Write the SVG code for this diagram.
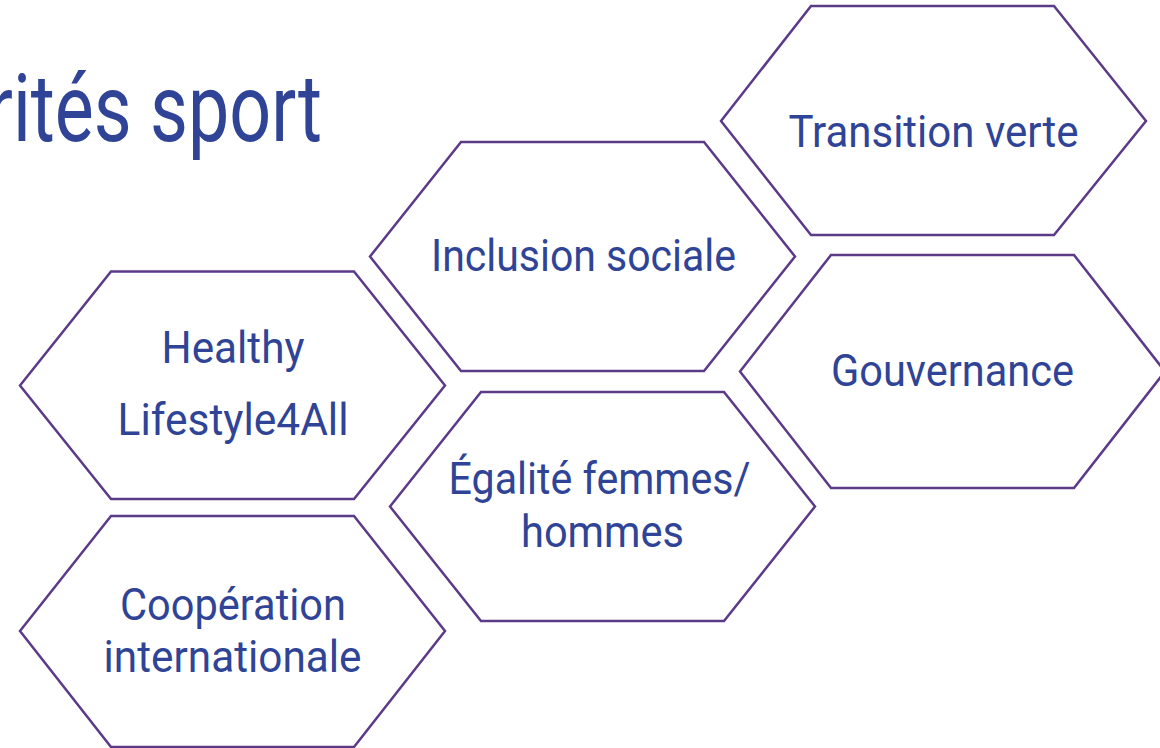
<svg xmlns="http://www.w3.org/2000/svg" width="1160" height="748" viewBox="0 0 1160 748">
<style>
.hex{fill:#ffffff;stroke:#5b3a87;stroke-width:2.5;stroke-linejoin:miter}
.lbl{font-family:Roboto,"Noto Sans","Liberation Sans",sans-serif;font-size:45px;fill:#2f4496;text-anchor:middle}
.title{font-family:Roboto,"Noto Sans","Liberation Sans",sans-serif;font-size:95px;fill:#2f4496}
</style>
<rect width="1160" height="748" fill="#ffffff"/>
<text class="title" x="-12" y="141" textLength="334" lengthAdjust="spacingAndGlyphs">rités sport</text>
<g id="connectors"></g>
<g id="transition-verte">
<polygon class="hex" points="721,121 811,6 1054,6 1146,121 1054,235 811,235"/>
<text class="lbl" x="933.5" y="147" textLength="290" lengthAdjust="spacingAndGlyphs">Transition verte</text>
</g>
<g id="inclusion-sociale">
<polygon class="hex" points="370,256.5 461,142 704,142 795,256.5 704,371 461,371"/>
<text class="lbl" x="583.5" y="271" textLength="305" lengthAdjust="spacingAndGlyphs">Inclusion sociale</text>
</g>
<g id="healthy-lifestyle">
<polygon class="hex" points="20,385.5 111,271.5 354,271.5 445,385.5 354,499 111,499"/>
<text class="lbl" x="233" y="363" textLength="143" lengthAdjust="spacingAndGlyphs">Healthy</text>
<text class="lbl" x="233" y="435" textLength="231" lengthAdjust="spacingAndGlyphs">Lifestyle4All</text>
</g>
<g id="gouvernance">
<polygon class="hex" points="740,371.5 831,255 1074,255 1165,371.5 1074,488 831,488"/>
<text class="lbl" x="952.5" y="386" textLength="243" lengthAdjust="spacingAndGlyphs">Gouvernance</text>
</g>
<g id="egalite">
<polygon class="hex" points="390,506.5 481,392 724,392 815,506.5 724,621 481,621"/>
<text class="lbl" x="599.5" y="494" textLength="302" lengthAdjust="spacingAndGlyphs">Égalité femmes/</text>
<text class="lbl" x="602.5" y="547" textLength="163" lengthAdjust="spacingAndGlyphs">hommes</text>
</g>
<g id="cooperation">
<polygon class="hex" points="20,631 111,516 354,516 445,631 354,747 111,747"/>
<text class="lbl" x="233" y="620" textLength="226" lengthAdjust="spacingAndGlyphs">Coopération</text>
<text class="lbl" x="232.5" y="672" textLength="258" lengthAdjust="spacingAndGlyphs">internationale</text>
</g>
</svg>
